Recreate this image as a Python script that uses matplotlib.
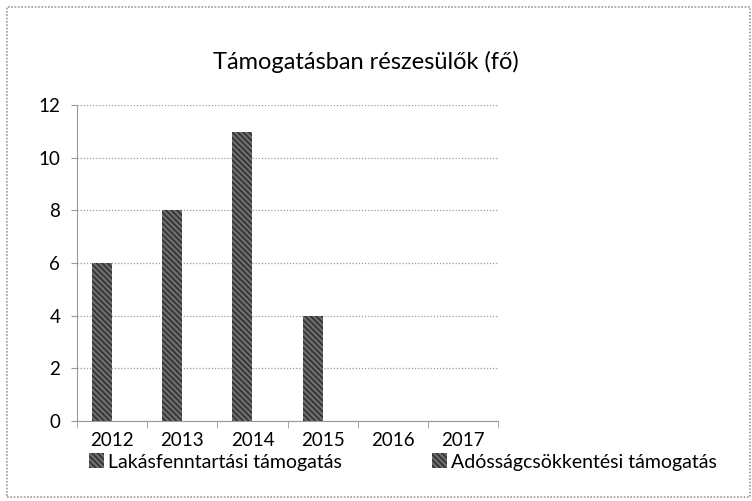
import numpy as np
import matplotlib
matplotlib.use('Agg')
from matplotlib import pyplot as plt
from matplotlib.patches import Rectangle

plt.rcParams['font.family'] = ['Lato', 'DejaVu Sans']
plt.rcParams['hatch.linewidth'] = 1.0

title = 'Támogatásban részesülők (fő)'
years = ['2012', '2013', '2014', '2015', '2016', '2017']
lakas = [6, 8, 11, 4, 0, 0]
adossag = [0, 0, 0, 0, 0, 0]
series_names = ['Lakásfenntartási támogatás', 'Adósságcsökkentési támogatás']

fig = plt.figure(figsize=(7.52, 5.01), dpi=100)
fig.patches.append(Rectangle((0.009, 0.008), 0.988, 0.978, transform=fig.transFigure,
                             fill=False, edgecolor='#9a9a9a', linewidth=1.2, linestyle=(0, (1, 1))))

ax = fig.add_axes([0.1024, 0.16, 0.56, 0.63])
x = np.arange(len(years))
w = 1 / 3.5
bar_style = dict(color='#6c6c6c', edgecolor='#2a2a2a', hatch='\\\\\\\\\\\\', linewidth=0)
b1 = ax.bar(x - w / 2, lakas, w, **bar_style)
b2 = ax.bar(x + w / 2, adossag, w, **bar_style)

ax.set_xlim(-0.5, len(years) - 0.5)
ax.set_ylim(0, 12)
ax.set_yticks(range(0, 13, 2))
ax.set_xticks(x)
ax.set_xticklabels(years)
ax.set_xticks(np.arange(-0.5, len(years)), minor=True)
ax.tick_params(axis='x', which='major', length=0, pad=8, labelsize=13.5)
ax.tick_params(axis='x', which='minor', length=5, color='#999999', direction='out')
ax.tick_params(axis='y', length=4, color='#999999', labelsize=13.5, pad=8)
ax.grid(axis='y', color='#9a9a9a', linestyle=(0, (1, 1.5)), linewidth=0.9)
ax.set_axisbelow(True)
for s in ['top', 'right']:
    ax.spines[s].set_visible(False)
ax.spines['left'].set_color('#999999')
ax.spines['left'].set_linestyle((0, (1, 1)))
ax.spines['bottom'].set_color('#999999')
ax.spines['bottom'].set_linestyle((0, (1, 1)))

fig.text(0.487, 0.876, title, ha='center', va='center', fontsize=17)

fig.legend([b1, b2], series_names, loc='center left', bbox_to_anchor=(0.095, 0.078),
           ncol=2, frameon=False, fontsize=14, handlelength=0.8, handleheight=0.8,
           handletextpad=0.2, columnspacing=4.6)

plt.savefig('out.png', dpi=100)
